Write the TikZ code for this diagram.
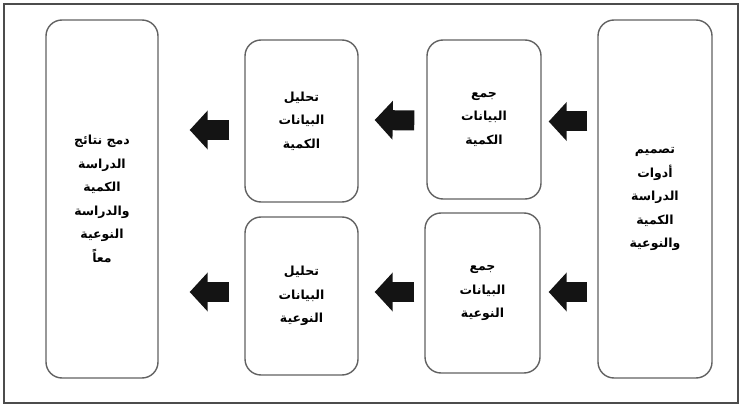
\documentclass[tikz,border=0pt]{standalone}
\usepackage{fontspec}
\newfontfamily\arabicfont[Script=Arabic]{DejaVu Sans}
\TeXXeTstate=1
\usetikzlibrary{arrows.meta,calc}
\newcommand{\arl}[1]{\beginR #1\endR}
\begin{document}
\begin{tikzpicture}[x=1pt,y=-1pt,
  stagebox/.style={draw=black!62, line width=1.4pt, rounded corners=16pt,
    minimum width=#1, align=center, inner sep=0pt,
    font=\arabicfont\bfseries\fontsize{12.5}{23.5}\selectfont, text=black},
  blockarr/.style={line width=20pt, draw=black!92,
    -{Triangle[length=18pt,width=38pt]}}]
\useasboundingbox (0,0) rectangle (739,406);
\draw[draw=black!70, line width=1.3pt] (4,4) rectangle (738,403);
% boxes
\node[stagebox=114pt, minimum height=358pt] (design) at (655,199)
  {\arl{تصميم}\\\arl{أدوات}\\\arl{الدراسة}\\\arl{الكمية}\\\arl{والنوعية}};
\node[stagebox=114pt, minimum height=159pt] (cq) at (484,119.5)
  {\arl{جمع}\\\arl{البيانات}\\\arl{الكمية}};
\node[stagebox=115pt, minimum height=160pt] (cl) at (482.5,293)
  {\arl{جمع}\\\arl{البيانات}\\\arl{النوعية}};
\node[stagebox=113pt, minimum height=162pt] (aq) at (301.5,121)
  {\arl{تحليل}\\\arl{البيانات}\\\arl{الكمية}};
\node[stagebox=113pt, minimum height=158pt] (al) at (301.5,296)
  {\arl{تحليل}\\\arl{البيانات}\\\arl{النوعية}};
\node[stagebox=112pt, minimum height=358pt] (merge) at (102,199)
  {\arl{دمج نتائج}\\\arl{الدراسة}\\\arl{الكمية}\\\arl{والدراسة}\\\arl{النوعية}\\\arl{معاً}};
% arrows
\draw[blockarr] ($(design.west |- cq.east)+(-10,2)$) -- ($(cq.east)+(7,2)$);
\draw[blockarr] ($(design.west |- cl.east)+(-10,-1)$) -- ($(cl.east)+(8,-1)$);
\draw[blockarr] ($(cq.west)+(-12,1)$) -- ($(aq.east)+(16,-1)$);
\draw[blockarr] ($(cl.west)+(-10,-1)$) -- ($(al.east)+(16,-4)$);
\draw[blockarr] ($(aq.west)+(-15,9)$) -- ($(merge.east |- aq.west)+(31,9)$);
\draw[blockarr] ($(al.west)+(-15,-4)$) -- ($(merge.east |- al.west)+(31,-4)$);
\end{tikzpicture}
\end{document}
